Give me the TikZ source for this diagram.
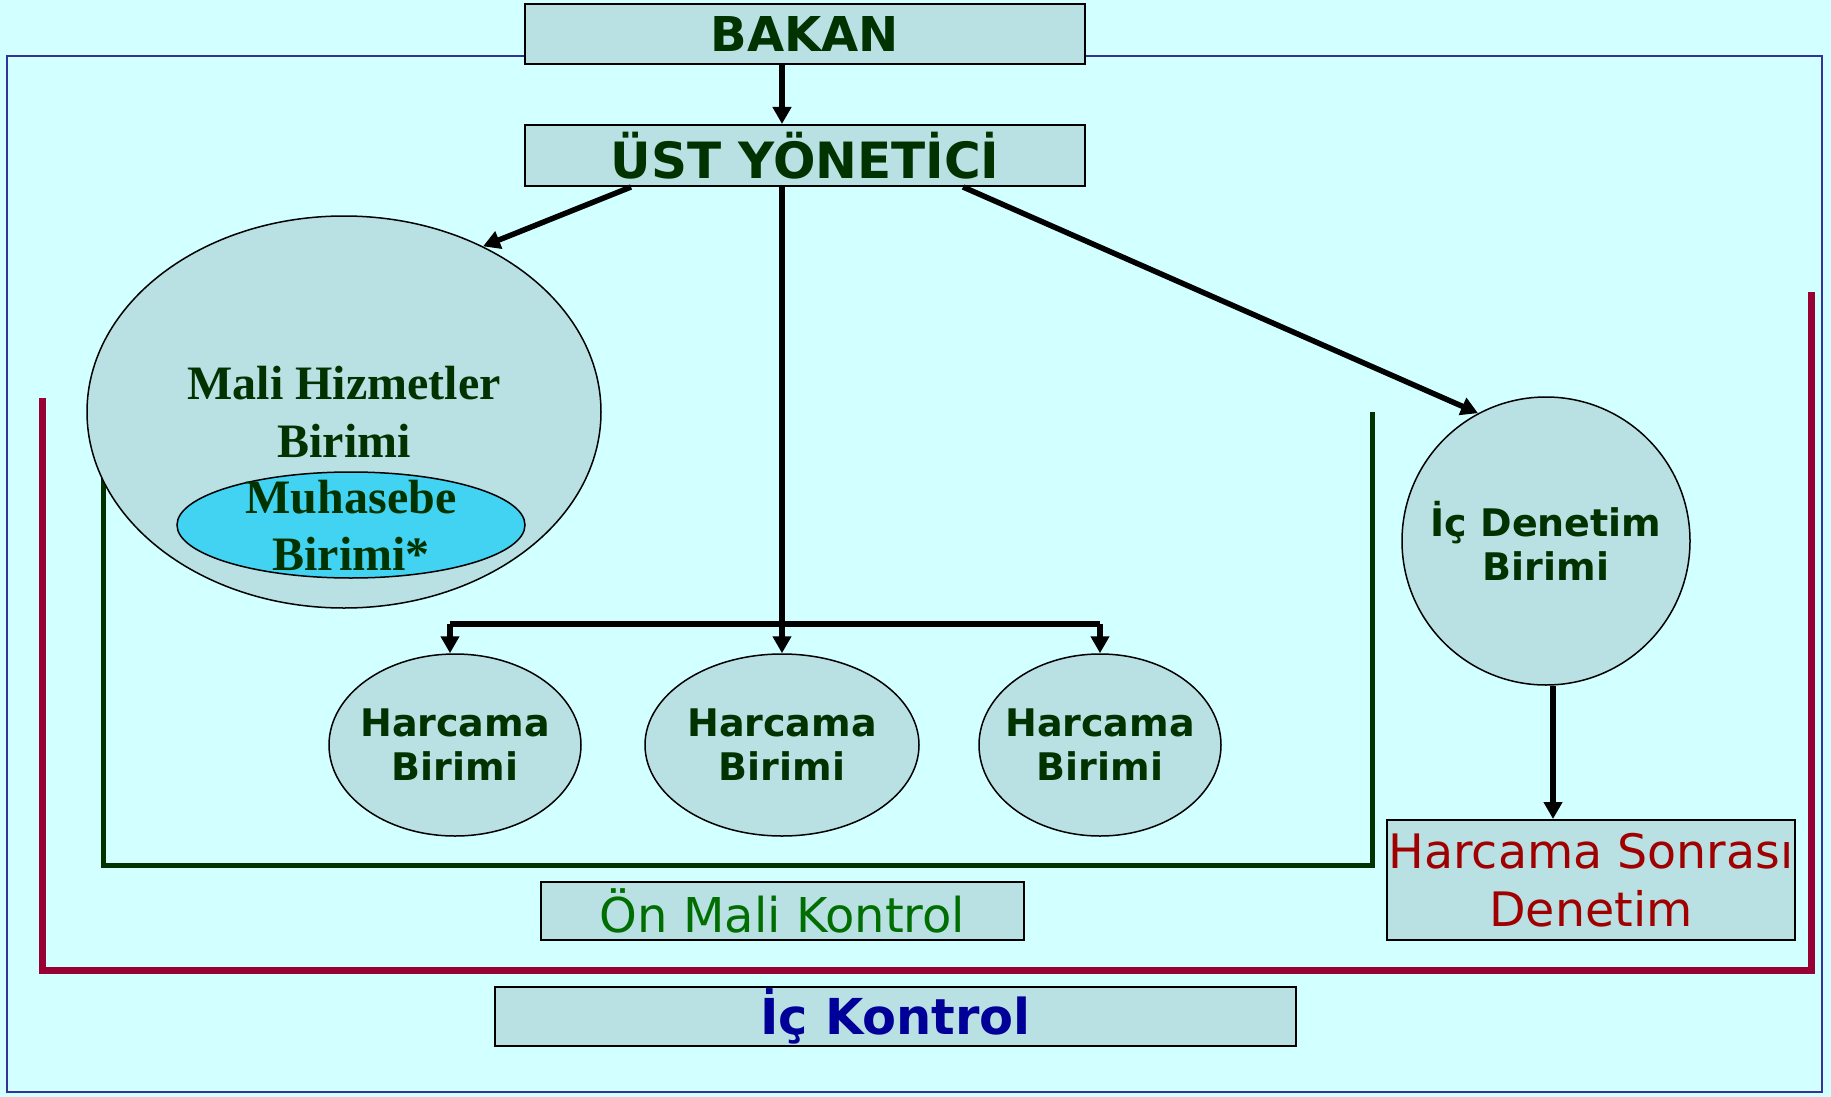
\documentclass[tikz,border=0pt]{standalone}
\usepackage{fontspec}
\setmainfont{DejaVu Sans}
\newfontfamily\antiqua{Liberation Serif}
\usetikzlibrary{shapes.geometric, positioning, arrows.meta}
\definecolor{bgcyan}{RGB}{210,255,255}
\definecolor{boxfill}{RGB}{185,224,227}
\definecolor{muhfill}{RGB}{66,210,242}
\definecolor{koyuyesil}{RGB}{0,51,0}
\definecolor{onyesil}{RGB}{0,110,0}
\definecolor{bordo}{RGB}{153,0,51}
\definecolor{kirmizi}{RGB}{160,0,0}
\definecolor{cerceve}{RGB}{51,51,153}
\definecolor{lacivert}{RGB}{0,0,153}
\tikzset {
    >={Triangle[length=17pt, width=18pt]},
    kutu/.style={draw=black, line width=2pt, fill=boxfill, inner sep=0pt},
    balon/.style={ellipse, draw=black, line width=1.5pt, fill=boxfill, inner sep=-25pt,
        align=center, text=koyuyesil, font=\fontsize{38}{44}\selectfont\bfseries},
    ok/.style={->, line width=5.5pt}
}

\begin{document}
\begin{tikzpicture}[x=1pt, y=-1pt]
                    \fill[bgcyan] (0,0) rectangle (1831,1097);
                    \useasboundingbox (0,0) rectangle (1831,1097);
                    \draw[cerceve, line width=2pt] (7,56) rectangle (1822,1092);

                    % kontrol cizgileri
                    \draw[bordo, line width=7pt] (42,398) -- (42,970) -- (1811,970) -- (1811,292);
                    \draw[koyuyesil, line width=5pt] (103,473) -- (103,865) -- (1372,865) -- (1372,412);

                    \node[kutu, minimum width=560pt, minimum height=60pt, text=koyuyesil,
                        font=\fontsize{48}{52}\selectfont\bfseries] (bakan) at (805,34) {BAKAN};
                    \node[kutu, minimum width=560pt, minimum height=61pt, text=koyuyesil,
                        font=\fontsize{50}{54}\selectfont\bfseries] (ust) at (805,155.5) {ÜST YÖNETİCİ};

                    \node[balon, minimum width=514pt, minimum height=392pt,
                        font=\antiqua\fontsize{48}{58}\selectfont\bfseries] (mali) at (344,412) {Mali Hizmetler\\Birimi};
                    \node[balon, fill=muhfill, minimum width=348pt, minimum height=106pt,
                        font=\antiqua\fontsize{48}{57}\selectfont\bfseries] (muh) at (351,525) {Muhasebe\\Birimi*};

                    \node[balon, minimum width=252pt, minimum height=182pt] (hsol) at (455,745) {Harcama\\Birimi};
                    \node[balon, minimum width=274pt, minimum height=182pt] (horta) at (782,745) {Harcama\\Birimi};
                    \node[balon, minimum width=242pt, minimum height=182pt] (hsag) at (1100,745) {Harcama\\Birimi};

                    \node[balon, minimum width=288pt, minimum height=288pt] (ic) at (1546,541) {İç Denetim\\Birimi};
                    \node[kutu, minimum width=408pt, minimum height=120pt, align=center, text=kirmizi,
                        font=\fontsize{47.5}{58}\selectfont] (hsd) at (1591,880) {Harcama Sonrası\\Denetim};

                    \node[kutu, minimum width=483pt, minimum height=58pt, text=onyesil,
                        font=\fontsize{48}{52}\selectfont] (onmali) at (782.5,911) {Ön Mali Kontrol};
                    \node[kutu, minimum width=801pt, minimum height=59pt, text=lacivert,
                        font=\fontsize{49.5}{54}\selectfont\bfseries] (ickontrol) at (895.5,1016.5) {İç Kontrol};

                    \coordinate (dal) at (782,624);
                    \coordinate (solucu) at (450,624);
                    \coordinate (denetimucu) at ([xshift=7pt]ic.south);

                    \draw[ok] (bakan.south -| dal) -- (ust.north -| dal);
                    \draw[ok] ([xshift=-174pt]ust.south) -- (mali.50);
                    \draw[ok] ([xshift=158pt]ust.south) -- (ic.118);
                    \draw[ok] (ust.south -| dal) -- (horta.north);
                    \draw[line width=5.5pt] (solucu) -- (dal -| hsag.north);
                    \draw[ok] (solucu) -- (solucu |- hsol.north);
                    \draw[ok] (dal -| hsag.north) -- (hsag.north);
                    \draw[ok] (denetimucu) -- (denetimucu |- hsd.north);
\end{tikzpicture}
\end{document}
